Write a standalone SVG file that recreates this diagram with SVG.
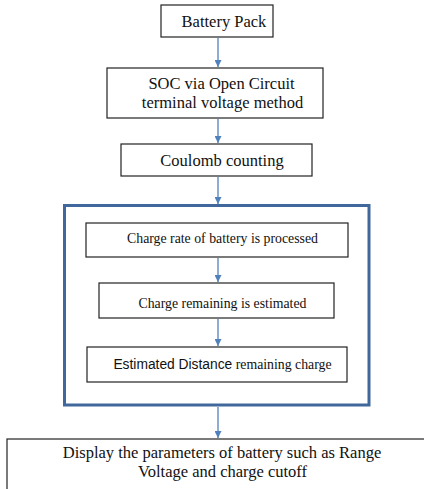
<svg xmlns="http://www.w3.org/2000/svg" width="424" height="489" viewBox="0 0 424 489">
<style>
.box{fill:#fff;stroke:#222;stroke-width:1.2}
.t{font-family:"Liberation Serif","Times New Roman",serif;fill:#111;text-anchor:middle}
.s{font-family:"Liberation Sans",Arial,sans-serif}
.c{stroke:#4F81BD;stroke-width:1.3;fill:none;marker-end:url(#ah)}
</style>
<defs>
<marker id="ah" viewBox="0 0 10 10" refX="10" refY="5" markerWidth="7" markerHeight="7" markerUnits="userSpaceOnUse" orient="auto">
<path d="M0,0 L10,5 L0,10 z" fill="#4F81BD"/>
</marker>
</defs>
<rect width="424" height="489" fill="#fff"/>
<g id="frame">
<rect x="64.5" y="205.5" width="304.5" height="199.5" fill="none" stroke="#41689C" stroke-width="3"/>
</g>
<g id="connectors">
<line class="c" x1="218" y1="38" x2="218" y2="67"/>
<line class="c" x1="218" y1="119" x2="218" y2="143"/>
<line class="c" x1="218" y1="177" x2="218" y2="204"/>
<line class="c" x1="218" y1="258" x2="218" y2="282"/>
<line class="c" x1="218" y1="319" x2="218" y2="346"/>
<line class="c" x1="218" y1="407" x2="218" y2="438"/>
</g>
<g id="battery-pack">
<rect class="box" x="161" y="5" width="112" height="32"/>
<text class="t" x="224" y="27" font-size="16.5">Battery Pack</text>
</g>
<g id="soc">
<rect class="box" x="107" y="68" width="216" height="50"/>
<text class="t" x="221.5" y="89" font-size="16.5">SOC via Open Circuit</text>
<text class="t" x="222.5" y="108" font-size="16.5">terminal voltage method</text>
</g>
<g id="coulomb">
<rect class="box" x="121" y="144" width="191" height="32"/>
<text class="t" x="222" y="166" font-size="16.5">Coulomb counting</text>
</g>
<g id="charge-rate">
<rect class="box" x="86" y="223" width="262" height="34"/>
<text class="t" x="222.5" y="243" font-size="13.8">Charge rate of battery is processed</text>
</g>
<g id="charge-remaining">
<rect class="box" x="99" y="283" width="235" height="35"/>
<text class="t" x="222.5" y="308" font-size="13.8">Charge remaining is estimated</text>
</g>
<g id="distance">
<rect class="box" x="87" y="347" width="260" height="35"/>
<text class="t" x="222.5" y="369" font-size="13.8"><tspan class="s">Estimated Distance</tspan> remaining charge</text>
</g>
<g id="display">
<rect class="box" x="7" y="439" width="430" height="60"/>
<text class="t" x="222" y="458" font-size="16.5">Display the parameters of battery such as Range</text>
<text class="t" x="222.5" y="477" font-size="16.5">Voltage and charge cutoff</text>
</g>
</svg>
